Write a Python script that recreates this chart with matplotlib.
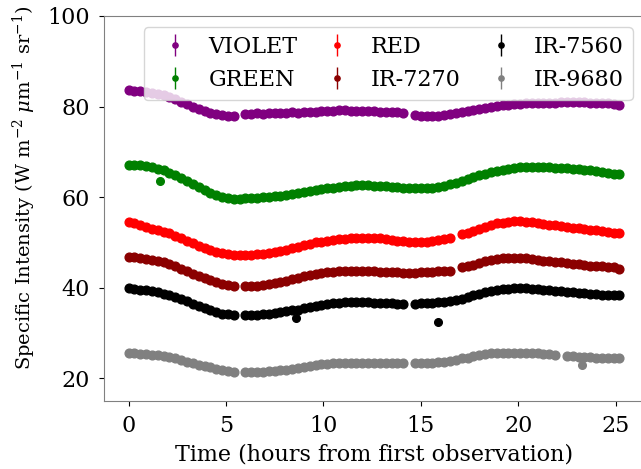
import numpy as np
import matplotlib
matplotlib.use("Agg")
import matplotlib.pyplot as plt

plt.rcParams['font.family'] = ['DejaVu Serif']
plt.rcParams['mathtext.fontset'] = 'dejavuserif'

nan = np.nan

hours = [0.0, 0.3, 0.6, 0.9, 1.2, 1.5, 1.8, 2.1, 2.4, 2.7,
         3.0, 3.3, 3.6, 3.9, 4.2, 4.5, 4.8, 5.1, 5.4, 5.7,
         6.0, 6.3, 6.6, 6.9, 7.2, 7.5, 7.8, 8.1, 8.4, 8.7,
         9.0, 9.3, 9.6, 9.9, 10.2, 10.5, 10.8, 11.1, 11.4, 11.7,
         12.0, 12.3, 12.6, 12.9, 13.2, 13.5, 13.8, 14.1, 14.4, 14.7,
         15.0, 15.3, 15.6, 15.9, 16.2, 16.5, 16.8, 17.1, 17.4, 17.7,
         18.0, 18.3, 18.6, 18.9, 19.2, 19.5, 19.8, 20.1, 20.4, 20.7,
         21.0, 21.3, 21.6, 21.9, 22.2, 22.5, 22.8, 23.1, 23.4, 23.7,
         24.0, 24.3, 24.6, 24.9, 25.2]

violet = [83.6, 83.5, 83.4, 83.2, 83.0, 82.8, 82.5, 82.1, 81.6, 81.0,
          80.5, 80.0, 79.5, 79.0, 78.6, 78.3, 78.1, 77.9, 77.9, nan,
          78.4, 78.4, 78.5, 78.4, 78.5, 78.6, 78.5, 78.6, 78.7, 78.6,
          78.8, 78.8, 78.9, 79.0, 79.0, 79.1, 79.2, 79.2, 79.1, 79.1,
          79.1, 79.0, 79.0, 78.9, 78.9, 78.8, 78.7, 78.6, nan, 78.2,
          78.0, 77.9, 77.9, 78.0, 78.1, 78.3, 78.5, 78.7, 79.0, 79.3,
          79.5, 79.7, 79.9, 80.1, 80.3, 80.4, 80.5, 80.6, 80.8, 80.9,
          80.8, 80.9, 80.9, 80.9, 81.0, 81.0, 81.0, 81.0, 81.0, 80.9,
          80.9, 80.8, 80.7, 80.6, 80.4]

green = [67.2, 67.2, 67.1, 66.9, 66.6, 66.3, 65.9, 65.4, 64.8, 64.2,
         63.6, 63.0, 62.3, 61.6, 61.0, 60.5, 60.1, 59.8, 59.7, 59.7,
         59.8, 59.9, 59.9, 60.0, 60.1, 60.2, 60.3, 60.5, 60.7, 60.9,
         61.2, 61.4, 61.6, 61.8, 62.0, 62.1, 62.3, 62.4, 62.5, 62.6,
         62.6, 62.6, 62.5, 62.4, 62.4, 62.3, 62.2, 62.1, 62.0, 62.0,
         62.0, 62.0, 62.1, 62.3, 62.5, 62.8, 63.1, 63.5, 64.0, 64.5,
         64.9, 65.2, 65.5, 65.8, 66.1, 66.3, 66.5, 66.6, 66.6, 66.7,
         66.7, 66.6, 66.6, 66.5, 66.5, 66.4, 66.3, 66.2, 66.1, 65.9,
         65.8, 65.6, 65.4, 65.2, 65.1]

red = [54.5, 54.2, 53.8, 53.4, 53.0, 52.7, 52.4, 52.0, 51.5, 51.0,
       50.4, 49.8, 49.2, 48.7, 48.3, 47.9, 47.6, 47.4, 47.3, 47.3,
       47.3, 47.3, 47.4, 47.5, 47.6, 47.8, 48.1, 48.4, 48.8, 49.1,
       49.4, 49.7, 50.0, 50.2, 50.4, 50.6, 50.7, 50.8, 50.9, 51.0,
       51.0, 51.0, 51.0, 50.9, 50.8, 50.6, 50.4, 50.3, 50.1, 50.0,
       50.1, 50.2, 50.4, 50.6, 50.8, 51.0, nan, 51.8, 52.1, 52.5,
       53.0, 53.5, 53.9, 54.2, 54.4, 54.6, 54.7, 54.7, 54.6, 54.5,
       54.3, 54.1, 53.9, 53.8, 53.6, 53.5, 53.3, 53.2, 53.0, 52.8,
       52.7, 52.5, 52.3, 52.2, 52.0]

ir7270 = [46.8, 46.7, 46.5, 46.3, 46.1, 45.9, 45.7, 45.3, 44.8, 44.2,
          43.6, 43.1, 42.6, 42.2, 41.7, 41.3, 40.9, 40.7, 40.5, nan,
          40.4, 40.4, 40.5, 40.6, 40.8, 41.0, 41.3, 41.6, 41.9, 42.2,
          42.5, 42.8, 43.0, 43.2, 43.4, 43.5, 43.6, 43.7, 43.7, 43.7,
          43.7, 43.6, 43.6, 43.5, 43.5, 43.4, 43.4, 43.3, 43.3, 43.3,
          43.4, 43.4, 43.5, 43.6, 43.7, 43.8, nan, 44.5, 44.8, 45.1,
          45.5, 45.8, 46.1, 46.3, 46.5, 46.6, 46.6, 46.6, 46.5, 46.4,
          46.2, 46.0, 45.9, 45.7, 45.6, 45.5, 45.3, 45.2, 45.1, 44.9,
          44.8, 44.7, 44.6, 44.5, 44.2]

ir7560 = [39.9, 39.8, 39.6, 39.4, 39.2, 39.0, 38.7, 38.4, 38.0, 37.5,
          37.0, 36.5, 36.0, 35.5, 35.0, 34.6, 34.3, 34.1, 34.0, nan,
          33.9, 33.9, 34.0, 34.1, 34.2, 34.4, 34.6, 34.8, 35.0, 35.2,
          35.5, 35.8, 36.0, 36.2, 36.4, 36.6, 36.7, 36.8, 36.8, 36.8,
          36.8, 36.8, 36.7, 36.7, 36.6, 36.6, 36.5, 36.5, nan, 36.5,
          36.6, 36.6, 36.7, 36.8, 36.9, 37.1, 37.3, 37.6, 37.9, 38.3,
          38.7, 39.0, 39.3, 39.5, 39.7, 39.8, 39.9, 39.9, 39.9, 39.8,
          39.7, 39.6, 39.4, 39.3, 39.2, 39.1, 39.0, 38.9, 38.8, 38.7,
          38.6, 38.5, 38.4, 38.4, 38.3]

ir9680 = [25.6, 25.5, 25.4, 25.3, 25.2, 25.1, 24.9, 24.7, 24.4, 24.1,
          23.7, 23.4, 23.0, 22.7, 22.4, 22.1, 21.9, 21.7, 21.5, nan,
          21.4, 21.4, 21.5, 21.5, 21.6, 21.7, 21.8, 21.9, 22.1, 22.3,
          22.5, 22.7, 22.9, 23.1, 23.2, 23.3, 23.4, 23.5, 23.5, 23.5,
          23.5, 23.5, 23.4, 23.4, 23.4, 23.4, 23.3, 23.3, nan, 23.3,
          23.4, 23.4, 23.5, 23.6, 23.7, 23.9, 24.1, 24.4, 24.6, 24.9,
          25.1, 25.3, 25.5, 25.6, 25.7, 25.7, 25.7, 25.7, 25.6, 25.6,
          25.5, 25.4, 25.3, 25.2, nan, 25.0, 24.9, 24.8, 24.8, 24.7,
          24.6, 24.6, 24.5, 24.5, 24.5]

# isolated outlying observations
green_out_t, green_out_v = [1.6], [63.5]
ir7560_out_t, ir7560_out_v = [8.6, 15.9], [33.3, 32.4]
ir9680_out_t, ir9680_out_v = [23.3], [22.9]

labels = ['VIOLET', 'GREEN', 'RED', 'IR-7270', 'IR-7560', 'IR-9680']
colors = ['purple', 'green', 'red', 'darkred', 'black', 'gray']
uncertainty = 0.3

FS = 16
fig = plt.figure(figsize=(6.41, 4.69), dpi=100)
ax = fig.add_axes([104/641, 68/469, 540/641, 385/469])

series = [violet, green, red, ir7270, ir7560, ir9680]
outliers = {1: (green_out_t, green_out_v), 4: (ir7560_out_t, ir7560_out_v),
            5: (ir9680_out_t, ir9680_out_v)}
for i, (vals, lab, col) in enumerate(zip(series, labels, colors)):
    ax.errorbar(hours, vals, yerr=uncertainty, fmt='o', color=col, ms=6.3,
                elinewidth=1.0, label=lab)
    if i in outliers:
        ot, ov = outliers[i]
        ax.errorbar(ot, ov, yerr=uncertainty, fmt='o', color=col, ms=5.5,
                    elinewidth=1.0)

ax.set_xlim(-1.26, 26.46)
ax.set_ylim(15, 100)
ax.set_xticks([0, 5, 10, 15, 20, 25])
ax.set_yticks([20, 40, 60, 80, 100])
ax.tick_params(labelsize=FS, pad=6.5)
for s in ax.spines.values():
    s.set_color('gray')
ax.spines['right'].set_visible(False)

ax.set_xlabel('Time (hours from first observation)', fontsize=FS, labelpad=5)
ax.set_ylabel(r'Specific Intensity (W m$^{-2}$ $\mu$m$^{-1}$ sr$^{-1}$)', fontsize=14)
ax.yaxis.set_label_coords(-0.122, 0.553)
ax.legend(ncol=3, loc='upper right', fontsize=FS, markerscale=0.6,
          handletextpad=0.5, columnspacing=0.8)

fig.savefig('out.png', dpi=100)
